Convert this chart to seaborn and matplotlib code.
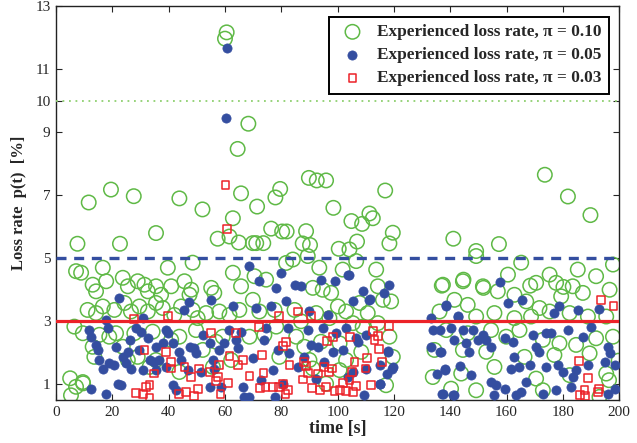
import matplotlib
matplotlib.use("Agg")
import matplotlib.pyplot as plt
import seaborn as sns

# experienced loss rate, pi = 0.10 (time [s], loss rate [%])
t_10 = [60.6, 60.0, 68.3, 64.5, 65.7, 62.8, 61.6, 57.4, 64.9,
        7.6, 11.6, 19.5, 27.6, 43.8, 52.0, 35.5, 22.7,
        89.8, 92.6, 95.9, 116.9, 79.6, 77.9, 71.4, 98.5, 104.9, 108.7, 111.3, 112.5,
        76.4, 80.3, 81.9, 88.8, 119.6, 106.9, 118.4, 87.6, 90.2, 69.9, 71.1, 73.6, 100.4, 104.2,
        173.6, 181.8, 189.8, 141.1, 157.3, 149.2,
        137.0, 144.7, 151.8, 168.4, 180.2,
        7.1, 8.9, 16.6, 13.0, 14.2, 17.8, 23.7, 25.5, 29.0, 31.4, 32.6, 35.5, 37.3, 39.7,
        40.9, 45.6, 48.0, 48.5, 55.1, 56.2, 62.8, 65.7, 47.4,
        11.2, 14.2, 16.6, 20.7, 24.3, 26.6, 29.6, 32.6, 35.5, 37.9, 42.0, 44.4, 48.5, 50.3,
        53.3, 58.0, 61.6, 65.1,
        6.5, 9.5, 15.4, 18.9, 13.0, 13.6, 21.3, 27.8, 34.3, 40.9, 43.8, 49.7, 56.8, 59.2,
        25.5, 29.0, 33.2, 35.5, 43.8, 52.1, 55.7, 62.2, 9.5, 7.1, 5.3, 23.7, 5.0, 9.6,
        84.1, 89.4, 70.5, 74.6, 81.7, 93.5, 94.7, 97.7, 101.8, 106.6, 113.7, 114.3, 116.1, 119.0,
        91.2, 100.1, 103.0, 107.8, 110.7, 69.9, 72.2, 77.6, 84.7, 87.0, 92.4, 97.1, 105.4,
        108.9, 114.3, 118.4, 74.0, 78.2, 85.3, 88.2, 94.1, 100.7, 103.0, 108.4, 119.6, 90.0,
        91.2, 95.9, 100.7, 117.2, 79.3, 68.7, 133.8, 134.4,
        149.2, 165.2, 197.8, 185.3, 160.5, 175.3, 191.8, 144.5, 151.6, 170.5, 177.6, 183.5,
        137.4, 141.5, 146.2, 156.9, 162.8, 167.0, 171.7, 179.4, 187.1, 196.6, 195.4, 188.9,
        182.4, 175.3, 168.7, 162.8, 155.7, 149.2, 136.2, 138.6, 146.2, 154.5, 159.9, 164.6,
        172.9, 178.8, 184.7, 191.8, 197.8, 144.5, 152.8, 166.4, 177.0, 189.5, 155.7, 143.9,
        170.5, 182.4, 195.4, 199.8, 149.2, 172.9, 140.3, 193.0, 196.4]
p_10 = [12.17, 11.97, 9.27, 8.47, 7.06, 6.27, 5.69, 5.62, 5.50,
        5.46, 6.77, 7.18, 6.97, 6.90, 6.55, 5.80, 5.46,
        7.55, 7.47, 7.47, 7.15, 7.20, 6.93, 6.64, 6.60, 6.18, 6.09, 6.42, 6.27,
        5.94, 5.85, 5.85, 5.86, 5.81, 5.53, 5.47, 5.47, 5.42, 5.48, 5.48, 5.48, 5.30, 5.28,
        7.65, 6.96, 6.37, 5.62, 5.45, 5.23,
        4.13, 4.32, 4.06, 4.13, 4.09,
        4.59, 4.54, 4.70, 4.16, 3.95, 4.27, 4.38, 4.11, 4.27, 4.16, 3.95, 4.11, 3.84, 4.70,
        4.11, 4.27, 4.00, 4.86, 4.06, 3.90, 4.54, 4.11, 3.84,
        3.36, 3.26, 3.47, 3.36, 3.58, 3.31, 3.47, 3.31, 3.58, 3.42, 3.20, 3.47, 3.36, 3.10,
        3.26, 3.31, 3.20, 3.36,
        2.83, 2.62, 2.57, 2.51, 2.19, 1.87, 2.62, 2.62, 2.67, 2.41, 2.51, 2.72, 2.35, 2.51,
        1.77, 1.87, 1.55, 1.77, 1.39, 2.09, 1.55, 1.77, 1.07, 0.92, 0.65, 2.19, 1.19, 1.03,
        4.96, 5.07, 4.43, 4.32, 4.85, 4.70, 4.00, 3.90, 4.64, 4.91, 4.64, 4.11, 3.68, 3.63,
        4.06, 3.47, 3.31, 3.58, 3.26, 3.68, 3.31, 3.36, 3.36, 3.00, 3.26, 3.10, 2.94,
        2.83, 2.94, 2.51, 2.57, 2.83, 2.51, 2.19, 2.35, 2.30, 1.77, 2.03, 1.87, 1.77,
        1.50, 1.02, 1.45, 0.97, 1.87, 2.51, 1.23, 2.09,
        5.07, 4.86, 4.80, 4.64, 4.48, 4.48, 4.43, 4.27, 4.11, 4.22, 4.22, 4.11,
        4.16, 3.68, 3.52, 3.95, 3.84, 3.63, 3.42, 3.79, 3.90, 4.00, 3.15, 3.15,
        3.26, 3.31, 3.15, 3.10, 3.26, 3.15, 3.31, 2.72, 2.62, 2.72, 2.51, 2.72,
        2.41, 2.30, 2.25, 2.46, 2.51, 2.09, 2.03, 1.87, 1.93, 1.98, 1.55, 1.34,
        1.18, 1.29, 1.34, 1.75, 0.81, 0.81, 0.86, 0.60, 1.13]

# experienced loss rate, pi = 0.05
t_05 = [60.6, 60.2,
        22.5, 47.1, 55.1, 45.6, 62.8, 17.8, 18.4, 11.8, 12.4, 14.2, 14.8, 15.4, 16.6, 18.9,
        20.7, 21.3, 23.7, 25.5, 26.1, 28.4, 30.2, 30.8, 32.6, 34.9, 35.5, 37.9, 39.1, 39.7,
        41.4, 43.8, 44.4, 47.4, 49.1, 49.7, 52.1, 54.5, 55.7, 58.0, 59.8, 61.6, 64.5, 65.7,
        63.9, 26.6, 30.8, 35.5, 39.1, 21.9, 23.1, 17.8, 12.4, 41.4, 42.6, 54.5, 58.6, 66.9,
        66.3, 24.9, 29.6, 33.2, 36.7, 46.8, 51.5, 56.2,
        68.7, 72.2, 79.9, 78.2, 84.7, 87.0, 94.1, 98.9, 108.9, 104.2, 118.4, 116.6, 111.3,
        105.4, 96.5, 90.0, 81.7, 76.4, 71.1, 74.6, 82.3, 89.4, 94.7, 99.5, 103.0, 106.6,
        110.1, 74.0, 90.6, 93.0, 98.3, 101.8, 82.9, 78.8, 88.2, 95.3, 69.9, 77.0, 85.9,
        105.4, 110.1, 114.9, 117.8, 119.6, 72.8, 80.5, 92.4, 103.6, 114.9, 109.5, 77.6, 68.7,
        133.2, 133.8, 133.2,
        103.8, 111.5, 107.4, 118.0, 117.4, 119.2, 115.1, 138.5, 142.9, 136.4, 135.2, 138.2,
        137.0, 141.3,
        157.5, 138.6, 160.5, 165.6, 177.0, 178.8, 185.3, 193.0, 142.7, 136.2, 140.3, 144.5,
        148.0, 151.6, 152.8, 141.5, 145.7, 149.8, 154.5, 159.3, 162.2, 169.3, 174.1, 175.9,
        181.8, 187.1, 190.1, 170.5, 171.7, 146.8, 136.8, 162.8, 196.0, 196.6, 194.8, 198.4,
        143.3, 138.0, 147.4, 161.6, 164.6, 168.2, 174.1, 178.2, 180.0, 183.5, 188.9, 184.7,
        154.5, 156.3, 159.3, 167.0, 165.2, 172.9, 177.6, 183.0, 137.4, 140.9, 155.7, 163.4,
        198.4, 196.0]
p_05 = [11.66, 9.46,
        3.74, 3.60, 3.66, 3.36, 3.49, 3.04, 2.78, 2.73, 2.51, 2.25, 2.09, 1.77, 1.50, 1.66,
        1.61, 2.19, 1.87, 2.03, 2.41, 2.78, 2.67, 3.10, 2.46, 1.71, 2.19, 2.30, 2.72, 2.62,
        2.30, 2.03, 1.77, 2.19, 2.14, 1.98, 2.57, 2.30, 1.77, 2.09, 2.30, 2.72, 2.14, 2.67,
        2.41, 1.50, 1.45, 1.45, 1.55, 1.02, 0.97, 0.68, 0.86, 0.97, 0.81, 0.92, 0.92, 0.60,
        0.92, 1.66, 2.09, 1.77, 1.77, 1.45, 1.40, 1.50,
        4.75, 4.27, 4.54, 4.06, 4.16, 4.11, 4.32, 4.27, 3.95, 4.48, 4.16, 3.90, 3.68,
        3.63, 3.20, 3.31, 3.63, 3.47, 3.42, 2.78, 2.78, 2.72, 2.78, 2.62, 2.78, 2.46,
        2.57, 2.41, 2.25, 2.19, 2.03, 2.09, 1.98, 2.09, 1.87, 1.71, 1.82, 1.45, 1.55,
        1.40, 1.50, 1.61, 2.03, 1.55, 1.13, 1.02, 1.18, 1.23, 1.02, 0.65, 0.60, 0.60,
        3.10, 2.72, 2.19,
        4.48, 3.71, 2.35, 2.06, 1.34, 1.50, 1.02, 3.49, 3.15, 2.03, 1.34, 1.50,
        0.70, 0.65,
        4.25, 3.52, 3.58, 3.66, 3.26, 3.49, 3.36, 3.39, 3.17, 2.72, 2.78, 2.72,
        2.72, 2.57, 2.41, 2.41, 2.30, 2.41, 2.19, 2.46, 2.35, 2.57, 2.62, 2.62,
        2.72, 2.49, 2.83, 2.19, 2.03, 2.03, 2.03, 1.87, 2.19, 1.98, 1.71, 1.61,
        1.57, 1.45, 1.29, 1.50, 1.55, 1.61, 1.55, 1.61, 1.39, 1.23, 1.61, 1.45,
        1.07, 0.97, 0.86, 1.07, 0.76, 0.70, 0.81, 0.92, 0.68, 0.65, 0.65, 0.65,
        0.86, 0.70]

# experienced loss rate, pi = 0.03
t_03 = [60.2, 60.6,
        27.8, 39.7, 31.4, 39.1, 40.9, 40.9, 45.6, 50.9, 54.5, 58.0, 55.1, 63.9, 61.6, 64.5,
        66.3, 34.7, 48.0, 57.4, 56.8, 61.0, 33.2, 32.0, 28.4, 31.0, 33.2, 43.8, 46.2, 49.1,
        50.3, 58.4,
        79.1, 85.9, 90.4, 72.0, 81.7, 80.5, 96.3, 98.5, 104.4, 112.5, 113.1, 114.3, 118.4,
        114.6, 73.1, 88.2, 88.8, 82.9, 95.3, 98.1, 96.9, 106.0, 110.4, 109.9, 115.7, 73.7,
        68.7, 93.0, 89.4, 105.2, 87.6, 104.2, 101.8, 72.5, 74.4, 77.0, 79.3, 80.5, 82.3,
        81.5, 90.9, 93.8, 95.9, 98.9, 100.7, 103.0, 105.4, 106.6, 111.9,
        193.6, 198.0, 185.6, 188.8, 187.7, 186.2, 188.0, 192.8, 192.4]
p_03 = [7.33, 5.92,
        3.07, 3.17, 2.09, 2.03, 1.71, 1.50, 1.55, 1.50, 1.39, 1.61, 2.64, 2.64, 1.90, 1.61,
        1.77, 1.34, 1.23, 1.23, 1.11, 1.04, 0.97, 0.92, 0.72, 0.70, 0.56, 0.70, 0.76, 0.62,
        0.86, 0.68,
        3.18, 3.31, 3.18, 2.83, 2.35, 2.21, 2.38, 2.49, 2.49, 2.70, 2.41, 2.53, 2.85,
        2.11, 1.92, 1.71, 1.58, 1.61, 1.55, 1.50, 1.39, 1.71, 1.84, 1.50, 1.71, 1.36,
        1.26, 1.34, 1.36, 1.39, 1.15, 1.13, 1.04, 0.89, 0.92, 0.92, 0.92, 1.02, 0.83,
        0.70, 0.88, 0.83, 0.92, 0.79, 0.83, 0.79, 0.76, 0.94, 0.97,
        3.68, 3.49, 1.73, 1.21, 0.83, 0.65, 0.62, 0.86, 0.76]

y_ticks = [1, 3, 5, 7, 9, 10, 11, 13]
x_ticks = list(range(0, 201, 20))
labels = ["Experienced loss rate, \u03c0 = 0.10",
          "Experienced loss rate, \u03c0 = 0.05",
          "Experienced loss rate, \u03c0 = 0.03"]

GREEN = "#5fb946"
BLUE = "#344ea0"
RED = "#ec2228"

sns.set_style("ticks")
plt.rcParams["font.family"] = ["Liberation Serif", "DejaVu Serif"]
plt.rcParams["xtick.direction"] = "in"
plt.rcParams["ytick.direction"] = "in"

fig = plt.figure(figsize=(6.37, 4.43), dpi=100)
ax = fig.add_axes([0.088, 0.097, 0.884, 0.889])

sns.scatterplot(x=t_10, y=p_10, ax=ax, marker="o", s=108, facecolor="none",
                edgecolor=GREEN, linewidth=1.1, label=labels[0], zorder=2)
sns.scatterplot(x=t_05, y=p_05, ax=ax, marker="o", s=44, color=BLUE,
                edgecolor=BLUE, linewidth=0.5, label=labels[1], zorder=3)
sns.scatterplot(x=t_03, y=p_03, ax=ax, marker="s", s=32, facecolor="none",
                edgecolor=RED, linewidth=1.1, label=labels[2], zorder=4)

ax.axhline(10, color="#8fd070", lw=1.3, ls=(0, (1, 2.6)), zorder=5)
ax.axhline(5, color=BLUE, lw=2.4, ls=(0, (3, 2.3)), zorder=5)
ax.axhline(3, color=RED, lw=2.3, zorder=5)

ax.set_xlim(0, 200)
ax.set_ylim(0.5, 13)
ax.set_xticks(x_ticks)
ax.set_yticks(y_ticks)
ax.tick_params(top=True, right=True, length=4, width=0.8, labelsize=11, pad=4)
for sp in ax.spines.values():
    sp.set_visible(True)
    sp.set_linewidth(1.0)
    sp.set_color("#222222")

ax.set_xlabel("time [s]", fontsize=13, weight="bold", labelpad=1)
ax.set_ylabel("Loss rate  p(t)  [%]", fontsize=12, weight="bold", labelpad=6)

leg = ax.legend(loc="upper right", prop={"weight": "bold", "size": 12.4},
                frameon=True, fancybox=False, edgecolor="black", framealpha=1,
                borderpad=0.45, labelspacing=0.4, handlelength=1.8, handletextpad=0.5,
                borderaxespad=0.6, markerscale=1.0)
leg.get_frame().set_linewidth(1.4)

fig.savefig("out.png", dpi=100)
